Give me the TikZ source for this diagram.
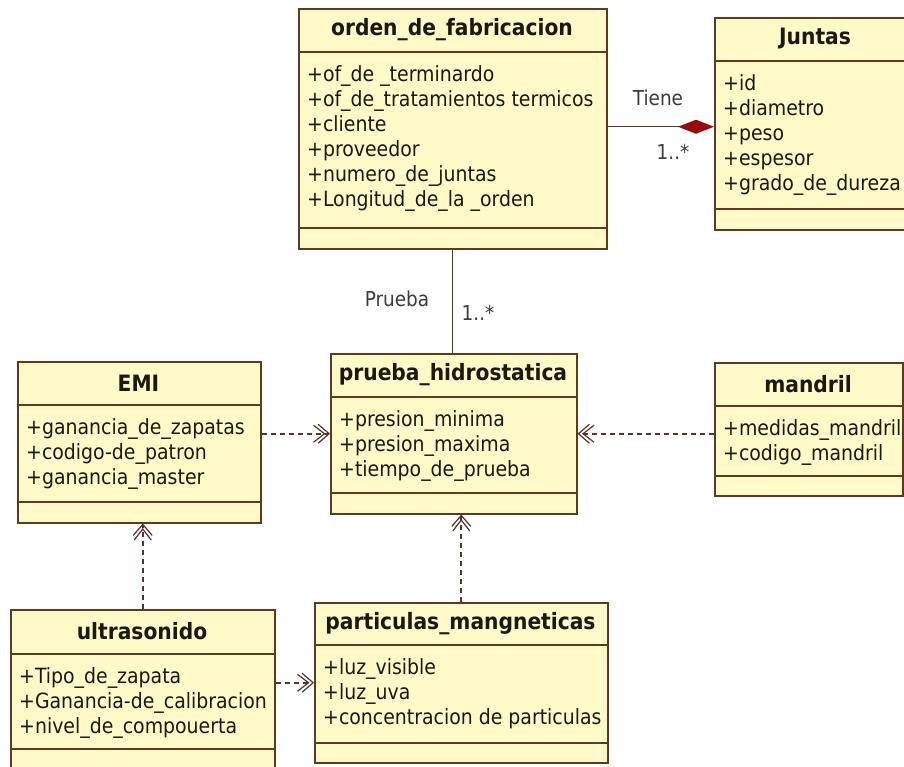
\documentclass[tikz,border=0pt]{standalone}
\usepackage{fontspec}
\setmainfont{DejaVu Sans Condensed}
\usetikzlibrary{arrows.meta,calc}

\definecolor{classfill}{RGB}{255,250,200}
\definecolor{classline}{RGB}{96,56,32}
\definecolor{ink}{RGB}{25,25,15}
\definecolor{labelink}{RGB}{60,60,60}
\definecolor{compfill}{RGB}{150,10,10}
\definecolor{depline}{RGB}{90,50,40}

\tikzset{
  classbox/.style={draw=classline, fill=classfill, line width=1.5pt, rectangle,
    anchor=north west, inner sep=0pt},
  classsep/.style={draw=classline, line width=1.5pt},
  classtitle/.style={font=\fontsize{22.5}{25}\selectfont\bfseries, text=ink, inner sep=0pt},
  attr/.style={font=\fontsize{21}{25}\selectfont, text=ink, anchor=base west, inner sep=0pt},
  rolelabel/.style={font=\fontsize{20.5}{24}\selectfont, text=labelink, inner sep=0pt},
  assoc/.style={draw=classline, line width=1.4pt},
  composition/.style={assoc, -{Diamond[length=36pt,width=14pt,fill=compfill,color=compfill]}},
  depend/.style={draw=depline, line width=1.6pt, dash pattern=on 5pt off 4pt,
    -{Straight Barb[length=11pt,width=17pt,line width=1.2pt,sep=-8pt]
      Straight Barb[length=11pt,width=19pt,line width=1.2pt]}}
}

% \umlclass{name}{x0}{y0}{x1}{y1}{header bottom}{attribute bottom}{title}{attributes}
\newcommand\umlclass[9]{%
  \node[classbox, minimum width={(#4-#2)*1pt}, minimum height={(#5-#3)*1pt}] (#1) at (#2,#3) {};
  \draw[classsep] (#2,#6) -- (#4,#6);
  \draw[classsep] (#2,#7) -- (#4,#7);
  \node[classtitle] (#1-title) at ({(#2+#4)/2},{(#3+#6)/2}) {#8};
  \foreach \attrtext [count=\attrno] in {#9}
    \node[attr] (#1-a\attrno) at ({#2+9},{#6+29+25*(\attrno-1)}) {\attrtext};
}

\begin{document}
\begin{tikzpicture}[x=1pt,y=-1pt]
  \useasboundingbox (0,0) rectangle (904,766);
  \fill[white] (0,0) rectangle (904,766);
  \clip (0,0) rectangle (904,766);

  \umlclass{of}{298}{8}{606}{248}{52}{228}{orden\_de\_fabricacion}
    {+of\_de \_terminardo, +of\_de\_tratamientos termicos, +cliente, +proveedor,
     +numero\_de\_juntas, +Longitud\_de\_la \_orden}
  \umlclass{jt}{714}{17}{916}{229}{61}{209}{Juntas}
    {+id, +diametro, +peso, +espesor, +grado\_de\_dureza}
  \umlclass{emi}{17}{361}{260}{522}{405}{502}{EMI}
    {+ganancia\_de\_zapatas, +codigo-de\_patron, +ganancia\_master}
  \umlclass{ph}{330}{353}{576}{513}{397}{493}{prueba\_hidrostatica}
    {+presion\_minima, +presion\_maxima, +tiempo\_de\_prueba}
  \umlclass{md}{714}{362}{902}{495}{406}{476}{mandril}
    {+medidas\_mandril, +codigo\_mandril}
  \umlclass{us}{10}{609}{274}{790}{654}{749}{ultrasonido}
    {+Tipo\_de\_zapata, +Ganancia-de\_calibracion, +nivel\_de\_compouerta}
  \umlclass{pm}{314}{602}{607}{762}{645}{743}{particulas\_mangneticas}
    {+luz\_visible, +luz\_uva, +concentracion de particulas}

  % associations
  \draw[composition] ([yshift=2pt]of.east) -- ([yshift=2pt]of.east -| jt.west);
  \node[rolelabel] (tiene) at (658,98) {Tiene};
  \node[rolelabel] (tiene-mult) at (673,152) {1..*};

  \draw[assoc] (of.south) -- (of.south |- ph.north);
  \node[rolelabel] (prueba) at (397,299) {Prueba};
  \node[rolelabel] (prueba-mult) at (478,313) {1..*};

  % dependencies
  \draw[depend] (emi.east |- ph.west) -- (ph.west);
  \draw[depend] (md.west |- ph.east) -- (ph.east);
  \draw[depend] (us.north) -- (us.north |- emi.south);
  \draw[depend] (us.east |- pm.west) -- (pm.west);
  \draw[depend] (pm.north) -- (pm.north |- ph.south);
\end{tikzpicture}
\end{document}
